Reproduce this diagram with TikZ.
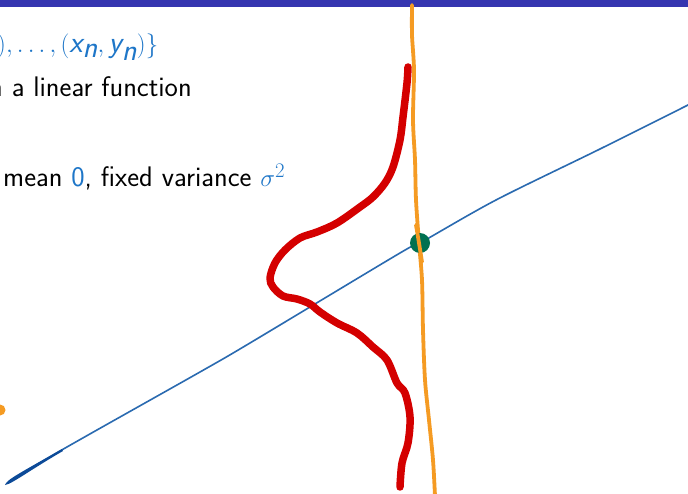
\documentclass[tikz,border=0pt]{standalone}
\renewcommand{\familydefault}{\sfdefault}
\definecolor{barblue}{RGB}{53,53,176}
\definecolor{txtblue}{RGB}{30,118,200}
\definecolor{lineblue}{RGB}{42,106,176}
\definecolor{darkblue}{RGB}{12,74,152}
\definecolor{penred}{RGB}{212,0,0}
\definecolor{penorange}{RGB}{245,155,35}
\definecolor{dotgreen}{RGB}{0,112,80}
\tikzset{
  txt/.style={anchor=base west, inner sep=0pt, font=\sffamily\fontsize{28.3}{32}\selectfont},
  mtxt/.style={anchor=base west, inner sep=0pt, font=\sffamily\fontsize{30.4}{34}\selectfont},
  redpen/.style={draw=penred, line width=7.5pt, line cap=round, line join=round},
  orangepen/.style={draw=penorange, line width=3.8pt, line cap=round, line join=round},
  fitline/.style={draw=lineblue, line width=1.6pt, line cap=round}
}
\newcommand{\vi}[1]{\textit{#1}}
\begin{document}
\begin{tikzpicture}[x=1pt,y=-1pt]
\useasboundingbox (0,0) rectangle (688,494);
\clip (0,0) rectangle (688,494);
\fill[white] (0,0) rectangle (688,494);
% top bar
\fill[barblue] (0,0) rectangle (688,7);
% texts
\node[mtxt, text=txtblue] (l1) at (-3,53) {$), \ldots, (\vi{x}_{\vi{n}}, \vi{y}_{\vi{n}})\}$};
\node[txt] (l2) at (-11,97) {n a linear function};
\node[txt] (l3) at (3,187) {mean \textcolor{txtblue}{0}, fixed variance \textcolor{txtblue}{$\sigma^2$}};
% fitted line
\draw[fitline] plot[smooth, tension=0.5] coordinates {(8,483) (60,451) (200,372) (250,343) (400,253) (420,243) (496,200) (600,149) (690,104)};
\fill[darkblue] (5,485) .. controls (6,480) and (20,473) .. (62,449) -- (63,451) .. controls (30,470) and (12,484) .. (5,485) -- cycle;
% red density
\draw[redpen] plot[smooth, tension=0.55] coordinates {(408,67) (407,83) (403,117) (400,140) (393,167) (385,183) (373,197) (360,207) (337,223) (317,232) (300,238) (285,250) (275,263) (270,278) (273,287) (283,296) (297,299) (310,304) (320,312) (337,323) (357,333) (373,347) (387,360) (397,383) (405,393) (410,417) (408,443) (402,463) (400,487)};
% orange vertical
\draw[orangepen] plot[smooth, tension=0.5] coordinates {(412,5) (412,35) (414,70) (413,120) (415,160) (416,200) (419,243) (422,280) (423,330) (425,380) (429,420) (433,460) (435,496)};
% dots
\node[circle, fill=dotgreen, inner sep=0pt, minimum size=20pt] (gd) at (420,243) {};
\draw[orangepen] plot[smooth, tension=0.5] coordinates {(416,225) (419,243) (422,262)};
\node[circle, fill=penorange, inner sep=0pt, minimum size=11pt] (od) at (0,410) {};
\end{tikzpicture}
\end{document}
